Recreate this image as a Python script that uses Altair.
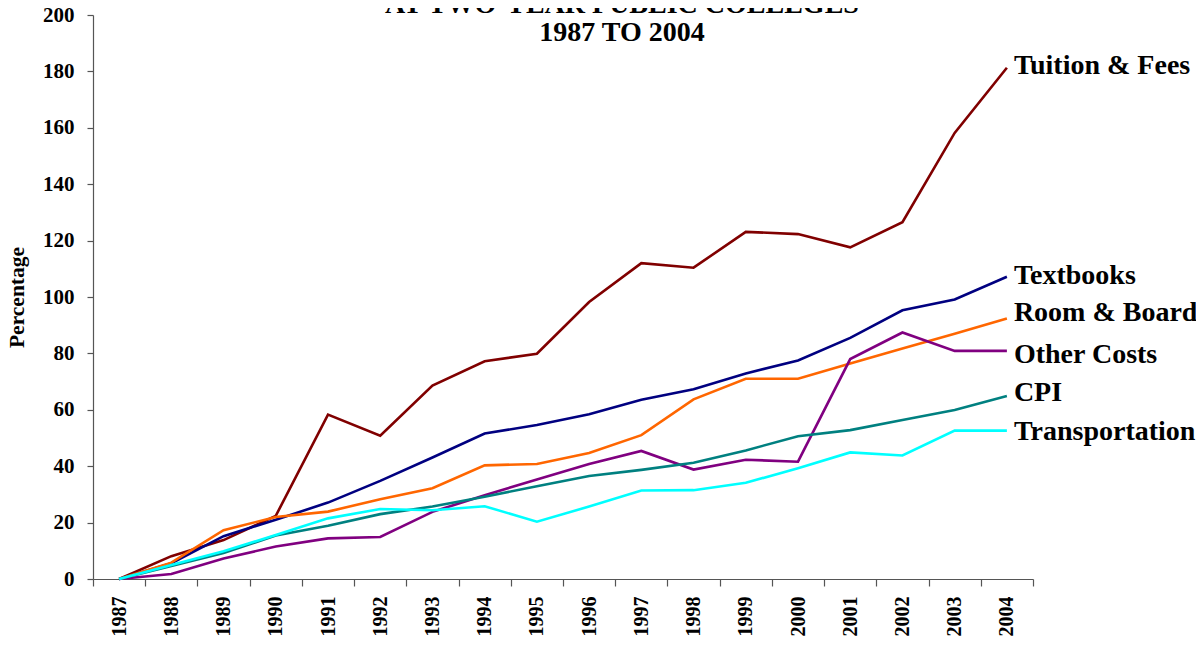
import altair as alt
import pandas as pd

years = [str(y) for y in range(1987, 2005)]

series_names = ["Tuition & Fees", "Textbooks", "Room & Board", "Other Costs", "CPI", "Transportation"]
series_colors = ["#800000", "#000080", "#FF6600", "#800080", "#008080", "#00FFFF"]
label_nudge = [-2, -1, -5, 4, -3, 1]

tuition = [0, 8.1, 13.8, 22.4, 58.3, 50.8, 68.6, 77.2, 79.9, 98.2, 112.0, 110.4, 123.1, 122.3, 117.6, 126.5, 158.2, 181.3]
textbooks = [0, 5.6, 15.2, 21.0, 27.1, 34.8, 43.1, 51.6, 54.6, 58.4, 63.6, 67.3, 72.9, 77.5, 85.5, 95.3, 99.1, 107.2]
room_board = [0, 5.8, 17.3, 22.0, 23.9, 28.3, 32.2, 40.3, 40.8, 44.7, 51.0, 63.7, 71.0, 71.0, 76.4, 81.7, 87.0, 92.4]
other_costs = [0, 1.8, 7.3, 11.5, 14.4, 14.9, 23.8, 29.7, 35.3, 40.8, 45.4, 38.8, 42.3, 41.6, 78.0, 87.4, 80.9, 80.9]
cpi = [0, 4.6, 9.2, 15.4, 18.9, 23.0, 25.7, 29.2, 32.9, 36.5, 38.7, 41.2, 45.6, 50.6, 52.8, 56.4, 59.9, 64.9]
transportation = [0, 5.0, 9.8, 15.6, 21.5, 24.8, 24.4, 25.8, 20.3, 25.7, 31.4, 31.5, 34.1, 39.3, 44.9, 43.8, 52.6, 52.6]

all_values = [tuition, textbooks, room_board, other_costs, cpi, transportation]

rows = []
for name, vals in zip(series_names, all_values):
    for y, v in zip(years, vals):
        rows.append({"year": y, "series": name, "value": v})
df = pd.DataFrame(rows)

FONT = "Liberation Serif"

x_enc = alt.X(
    "year:O",
    bandPosition=0.5,
    scale=alt.Scale(type="band", paddingInner=0, paddingOuter=0),
    axis=alt.Axis(
        title=None, labelAngle=-90, tickBand="extent", labelFont=FONT, labelFontWeight="bold",
        labelFontSize=20, labelColor="black", domainColor="#555555", tickColor="#555555",
        tickSize=7, labelPadding=10, labelBaseline="middle", labelAlign="right", grid=False,
        domainWidth=1.2, tickWidth=1.2,
    ),
)
y_enc = alt.Y(
    "value:Q",
    scale=alt.Scale(domain=[0, 200], nice=False),
    axis=alt.Axis(
        title="Percentage", values=list(range(0, 201, 20)), labelFont=FONT, labelFontWeight="bold",
        labelFontSize=21, labelColor="black", titleFont=FONT, titleFontWeight="bold",
        titleFontSize=21.5, titleColor="black", titlePadding=14, domainColor="#555555",
        tickColor="#555555", tickSize=6, labelPadding=13, grid=False,
        domainWidth=1.2, tickWidth=1.2,
    ),
)
color_enc = alt.Color(
    "series:N",
    scale=alt.Scale(domain=series_names, range=series_colors),
    legend=None,
)

lines = alt.Chart(df).mark_line(strokeWidth=2.6).encode(
    x=x_enc, y=y_enc, color=color_enc, detail="series:N"
)

label_layers = []
for name, nudge in zip(series_names, label_nudge):
    sub = df[(df["year"] == years[-1]) & (df["series"] == name)]
    label_layers.append(
        alt.Chart(sub).mark_text(
            align="left", baseline="middle", dx=7, dy=nudge, font=FONT, fontWeight="bold",
            fontSize=28, color="black"
        ).encode(x=alt.X("year:O", bandPosition=0.5), y="value:Q", text="series:N")
    )

chart = (
    alt.layer(lines, *label_layers)
    .properties(
        width=940,
        height=564,
        autosize=alt.AutoSizeParams(type="none"),
        padding={"left": 85, "top": 7, "right": 163, "bottom": 58},
        title=alt.TitleParams(
            text=["AT TWO-YEAR PUBLIC COLLEGES", "1987 TO 2004"],
            font=FONT, fontWeight="bold", fontSize=28, color="black",
            anchor="middle", lineHeight=28, dx=59, dy=43, offset=0,
        ),
    )
    .configure_view(stroke=None)
)

chart.save("out.html", embed_options={"renderer": "svg", "actions": False})
